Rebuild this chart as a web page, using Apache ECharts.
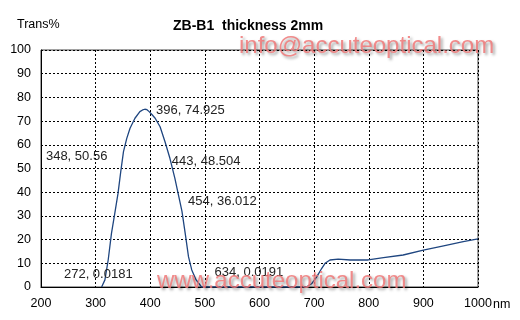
<!DOCTYPE html>
<html><head><meta charset="utf-8">
<script src="https://cdn.jsdelivr.net/npm/echarts@6/dist/echarts.min.js"></script>
<style>html,body{margin:0;padding:0;background:#fff}#c{width:520px;height:320px}</style>
</head><body><div id="c"></div>
<script>
var wavelengths = [311,317,323,329,335,341,346,351,357,363,372,381,386,390,394,398,403,409,418,427,436,445,451,458,464,470,476,484,494,600,686,696,705,714,720,729,744,766,799,827,863,900,937,973,1000];
var trans = [0,3,11.4,22.6,31,39.5,48.7,57.1,62.7,67,71.2,74,74.7,75,74.8,74,72.8,71.2,67.6,61.3,54.3,45.9,39.5,32,22.6,12.8,7.2,3,0,0,0,1.5,4.4,7.9,10,11.4,11.8,11.4,11.4,12.4,13.5,15.6,17.4,19.1,20.3];
var annotTexts = ['396, 74.925','348, 50.56','443, 48.504','454, 36.012','272, 0.0181','634, 0.0191'];
var annotX = [410.6,209,439.4,469.2,242,517.8];
var annotY = [74.7,55.3,52.9,36.0,5.1,6.1];
var titleText = 'ZB-B1  thickness 2mm';
var yName = 'Trans%';
var xUnit = 'nm';
var watermarks = ['info@accuteoptical.com','www.accuteoptical.com'];

var chart = echarts.init(document.getElementById('c'), null, {renderer:'canvas'});
var pts = wavelengths.map(function(w,i){return [w,trans[i]];});
var marks = annotTexts.map(function(t,i){
  return {coord:[annotX[i],annotY[i]], value:t};
});
var font = 'Arial, "Liberation Sans", sans-serif';
var wmStyle = function(txt,x,y){
  return {type:'text', left:x, top:y, z:100, silent:true,
    style:{text:txt, fill:'rgba(240,120,120,0.85)', font:'24px ' + font,
      textShadowColor:'rgba(0,0,0,0.45)', textShadowBlur:3, textShadowOffsetX:2, textShadowOffsetY:2}};
};
chart.setOption({
  animation:false,
  backgroundColor:'#fff',
  textStyle:{fontFamily:font},
  grid:{left:41, right:42, top:50, bottom:33, show:true, borderColor:'#444', borderWidth:1},
  xAxis:{type:'value', min:200, max:1000, interval:100,
    axisLine:{show:true, onZero:false, lineStyle:{color:'#000'}},
    axisTick:{show:false},
    axisLabel:{color:'#000', fontSize:12.5, margin:10, fontFamily:font, formatter:function(v){return String(v);}},
    splitLine:{show:true, lineStyle:{color:'#000', type:[2,2], width:1}}
  },
  yAxis:{type:'value', min:0, max:100, interval:10,
    axisLine:{show:true, lineStyle:{color:'#000'}},
    axisTick:{show:false},
    axisLabel:{color:'#000', fontSize:12.5, margin:10, fontFamily:font},
    splitLine:{show:true, lineStyle:{color:'#000', type:[2,2], width:1}}
  },
  series:[{
    type:'line', data:pts, symbol:'none', smooth:false,
    lineStyle:{color:'#1f4680', width:1.3},
    markPoint:{
      symbol:'circle', symbolSize:0, silent:true,
      label:{show:true, position:'right', distance:0, color:'#222', fontSize:13, fontFamily:font,
        formatter:function(p){return p.data.value;}},
      data:marks
    }
  }],
  graphic:[
    {type:'text', left:17, top:18, style:{text:yName, fill:'#000', font:'12.5px ' + font}},
    {type:'text', left:173, top:19, style:{text:titleText, fill:'#000', font:'bold 14px ' + font}},
    {type:'text', left:493, top:298, style:{text:xUnit, fill:'#000', font:'12.5px ' + font}},
    wmStyle(watermarks[0],239,34),
    wmStyle(watermarks[1],157,269)
  ]
});
</script></body></html>
